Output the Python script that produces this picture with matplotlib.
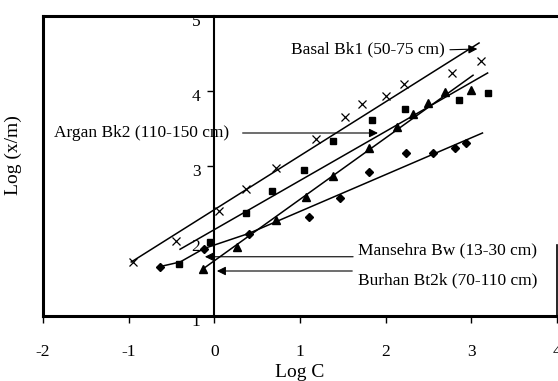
import matplotlib
matplotlib.use('Agg')
import matplotlib.pyplot as plt
from matplotlib.transforms import ScaledTranslation

plt.rcParams['font.family'] = ['Liberation Serif', 'DejaVu Serif']

# ---------------- data ----------------
x_ticks = [-2, -1, 0, 1, 2, 3, 4]
y_ticks = [1, 2, 3, 4, 5]

basal_x = [-0.95, -0.45, 0.06, 0.37, 0.72, 1.19, 1.53, 1.72, 2.00, 2.21, 2.78, 3.11]
basal_y = [1.72, 2.00, 2.40, 2.69, 2.97, 3.36, 3.66, 3.83, 3.94, 4.09, 4.24, 4.40]
basal_fit_x = [-0.97, 3.09]
basal_fit_y = [1.72, 4.64]

argan_x = [-0.41, -0.05, 0.37, 0.67, 1.05, 1.39, 1.84, 2.23, 2.86, 3.19]
argan_y = [1.70, 1.99, 2.38, 2.67, 2.95, 3.34, 3.61, 3.76, 3.88, 3.98]
argan_fit_x = [-0.40, 3.19]
argan_fit_y = [1.89, 4.24]

mansehra_x = [-0.63, -0.12, 0.40, 1.11, 1.47, 1.81, 2.24, 2.55, 2.81, 2.94]
mansehra_y = [1.66, 1.90, 2.10, 2.32, 2.58, 2.92, 3.18, 3.17, 3.24, 3.31]
mansehra_fit_x = [-0.63, -0.40, -0.12, 0.40, 3.13]
mansehra_fit_y = [1.66, 1.72, 1.90, 2.10, 3.44]

burhan_x = [-0.13, 0.26, 0.72, 1.07, 1.39, 1.80, 2.13, 2.32, 2.50, 2.69, 3.00]
burhan_y = [1.63, 1.92, 2.28, 2.59, 2.87, 3.24, 3.52, 3.70, 3.84, 3.99, 4.01]
burhan_fit_x = [-0.13, 3.02]
burhan_fit_y = [1.63, 4.21]

labels = ["Basal Bk1 (50-75 cm)", "Argan Bk2 (110-150 cm)",
          "Mansehra Bw (13-30 cm)", "Burhan Bt2k (70-110 cm)"]
label_pos = [(0.90, 4.55), (-1.87, 3.44), (1.68, 1.88), (1.68, 1.47)]
arrow_from = [(2.75, 4.55), (0.33, 3.44), (1.62, 1.79), (1.61, 1.60)]
arrow_to = [(3.07, 4.56), (1.91, 3.44), (-0.11, 1.79), (0.03, 1.60)]

# ---------------- figure ----------------
fig = plt.figure(figsize=(5.58, 3.81), dpi=100)
ax = fig.add_axes([43 / 558, 65 / 381, 514 / 558, 300 / 381])
ax.set_xlim(-2, 4)
ax.set_ylim(1, 5)

lw = 1.1
ax.plot(basal_fit_x, basal_fit_y, color='k', lw=lw)
ax.plot(argan_fit_x, argan_fit_y, color='k', lw=lw)
ax.plot(mansehra_fit_x, mansehra_fit_y, color='k', lw=lw)
ax.plot(burhan_fit_x, burhan_fit_y, color='k', lw=lw)

ax.plot(basal_x, basal_y, ls='none', marker='x', ms=6, mew=0.9, color='k')
ax.plot(argan_x, argan_y, ls='none', marker='s', ms=4, color='k')
ax.plot(mansehra_x, mansehra_y, ls='none', marker='D', ms=4.5, color='k')
ax.plot(burhan_x, burhan_y, ls='none', marker='^', ms=5.5, color='k')

for txt, (tx, ty) in zip(labels, label_pos):
    ax.text(tx, ty, txt, fontsize=12.5, ha='left', va='center')
for (sx, sy), (ex, ey) in zip(arrow_from, arrow_to):
    ax.annotate('', xy=(ex, ey), xytext=(sx, sy),
                arrowprops=dict(arrowstyle='-|>', color='k', lw=0.8,
                                mutation_scale=13, shrinkA=0, shrinkB=0))

# frame and axes
ax.spines['left'].set_position(('data', 0))
ax.spines['left'].set_linewidth(1.5)
ax.spines['top'].set_linewidth(2.2)
ax.spines['bottom'].set_linewidth(2.2)
ax.spines['right'].set_linewidth(1.2)
ax.spines['right'].set_bounds(1, 1.95)
ax.axvline(-2, color='k', lw=2.2, clip_on=False)

ax.set_xticks(x_ticks)
ax.set_xticklabels([str(v) for v in x_ticks])
ax.set_yticks(y_ticks)
ax.set_yticklabels([str(v) for v in y_ticks])
ax.tick_params(axis='x', direction='out', length=5, width=1, pad=15, labelsize=12.5)
ax.tick_params(axis='y', direction='out', length=5, width=1, pad=5, labelsize=12.5)
ax.tick_params(axis='y', which='both', right=False)

off = ScaledTranslation(0, -4 / 100, fig.dpi_scale_trans)
for lab in ax.get_yticklabels():
    lab.set_transform(lab.get_transform() + off)

ax.set_xlabel('Log C', fontsize=14)
ax.set_ylabel('Log (x/m)', fontsize=14)
ax.xaxis.set_label_coords((300 - 43) / 514, (316 - 364) / 300)
ax.yaxis.set_label_coords((22 - 43) / 514, (316 - 155) / 300)

fig.savefig('out.png', dpi=100)
